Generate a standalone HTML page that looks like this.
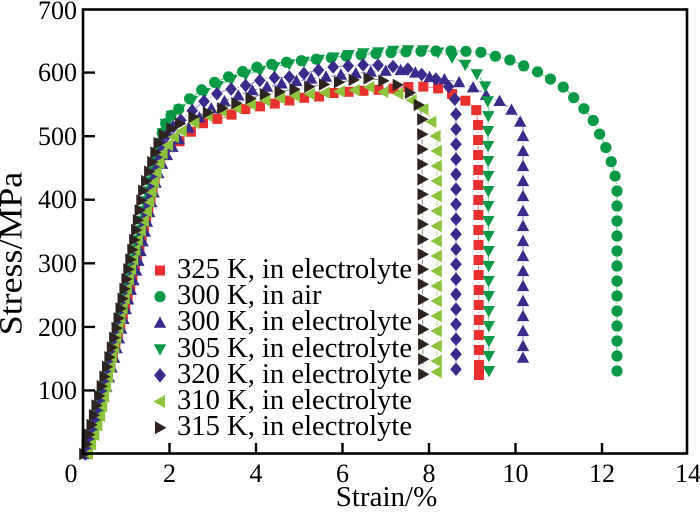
<!DOCTYPE html>
<html><head><meta charset="utf-8">
<style>
html,body{margin:0;padding:0;background:#fff;}
#wrap{position:relative;width:700px;height:518px;overflow:hidden;background:#fff;}
#c{position:absolute;left:0;top:0;display:block;}
.t{position:absolute;font-family:"Liberation Serif","Times New Roman",Times,serif;color:#000;white-space:nowrap;line-height:1;}
.yl{font-size:26px;width:60px;text-align:right;left:17px;}
.xl{font-size:26px;width:60px;text-align:center;top:461.2px;}
.lg{font-size:28.6px;left:177px;}
</style></head>
<body>
<div id="wrap">
<svg id="c" width="700" height="518" viewBox="0 0 700 518" xmlns="http://www.w3.org/2000/svg">
<defs>
<rect id="m_sq" x="-5" y="-5" width="10" height="10" fill="#e8302e"/>
<circle id="m_ci" r="5.6" fill="#0a9a46"/>
<polygon id="m_tu" points="0,-6.5 6.2,4.8 -6.2,4.8" fill="#3a2a8c"/>
<polygon id="m_td" points="0,6.5 6.2,-4.8 -6.2,-4.8" fill="#0a9a46"/>
<polygon id="m_di" points="0,-6.8 5.8,0 0,6.8 -5.8,0" fill="#3a2a8c"/>
<polygon id="m_tl" points="-6.5,0 4.8,-6.2 4.8,6.2" fill="#8cc43c"/>
<polygon id="m_tr" points="6.5,0 -4.8,-6.2 -4.8,6.2" fill="#2e2320"/>
</defs>
<rect width="700" height="518" fill="#fff"/>
<g id="series"></g>
<rect x="83" y="9.5" width="604" height="444" fill="none" stroke="#000" stroke-width="2.6"/>
<g stroke="#000" stroke-width="2.4">
<path d="M83,390.4h12M83,326.9h12M83,263.3h12M83,199.7h12M83,136.2h12M83,72.6h12"/>
<path d="M169.5,454v-11M256,454v-11M342.5,454v-11M429,454v-11M515.5,454v-11M602,454v-11"/>
</g>
<g>
<rect x="155" y="265.5" width="10" height="10" fill="#e8302e"/>
<circle cx="160" cy="296.7" r="5.6" fill="#0a9a46"/>
<polygon points="160,316.5 166.2,327.8 153.8,327.8" fill="#3a2a8c"/>
<polygon points="160,355.6 166.2,344.3 153.8,344.3" fill="#0a9a46"/>
<polygon points="160,368 166,375.3 160,382.6 154,375.3" fill="#3a2a8c"/>
<polygon points="153.5,401.5 165,395 165,408" fill="#8cc43c"/>
<polygon points="166.5,427.7 155,421.2 155,434.2" fill="#2e2320"/>
</g>
</svg>

<div class="t yl" style="top:378.2px">100</div>
<div class="t yl" style="top:314.6px">200</div>
<div class="t yl" style="top:251px">300</div>
<div class="t yl" style="top:187.4px">400</div>
<div class="t yl" style="top:123.9px">500</div>
<div class="t yl" style="top:60.3px">600</div>
<div class="t yl" style="top:-2.3px">700</div>

<div class="t xl" style="left:41px">0</div>
<div class="t xl" style="left:139.5px">2</div>
<div class="t xl" style="left:226px">4</div>
<div class="t xl" style="left:312.5px">6</div>
<div class="t xl" style="left:399px">8</div>
<div class="t xl" style="left:485.5px">10</div>
<div class="t xl" style="left:572px">12</div>
<div class="t xl" style="left:658px">14</div>

<div class="t" style="font-size:29px;left:286.5px;width:200px;text-align:center;top:482.7px">Strain/%</div>
<div class="t" style="font-size:33px;left:-88.1px;width:200px;text-align:center;top:236.5px;height:33px;transform:rotate(-90deg) scaleX(1.087);">Stress/MPa</div>

<div class="t lg" style="top:256px">325 K, in electrolyte</div>
<div class="t lg" style="top:282.2px">300 K, in air</div>
<div class="t lg" style="top:308.4px">300 K, in electrolyte</div>
<div class="t lg" style="top:334.6px">305 K, in electrolyte</div>
<div class="t lg" style="top:360.8px">320 K, in electrolyte</div>
<div class="t lg" style="top:387px">310 K, in electrolyte</div>
<div class="t lg" style="top:413.2px">315 K, in electrolyte</div>
</div>
<script>
(function(){
var NS="http://www.w3.org/2000/svg";
var S=[
{m:"m_sq",lc:"#f08a86",p:[[88,454],[102,400],[116,345],[130,290],[143,235],[152,195],[157,170],[163,157],[172,145],[182,140],[198,125],[212,120],[227,117],[240,110],[257,107],[283,102],[300,98],[317,97],[333,93],[360,91],[390,89],[418,86],[437,88],[450,93],[463,99],[476,108],[478,125],[479,375]]},
{m:"m_ci",lc:"#6cc48e",p:[[86,454],[100,400],[113,345],[126,290],[139,235],[150,185],[158,150],[163,130],[168,118],[180,108],[188,100],[200,91],[213,83],[233,75],[253,68],[278,63],[308,60],[328,58],[347,56],[370,54],[400,52],[430,51],[460,51],[480,52],[494,56],[510,60],[518,63],[528,68],[538,72],[547,77],[557,83],[566,89],[573,97],[578,102],[585,110],[593,120],[600,135],[608,152],[613,167],[616,180],[617,190],[617,371]]},
{m:"m_tu",lc:"#8a80c0",p:[[86,454],[100,410],[115,355],[128,300],[137,268],[147,222],[152,200],[157,177],[163,162],[170,150],[180,138],[192,124],[207,111],[227,100],[250,91],[280,84],[310,79],[340,75],[370,72],[407,70],[422,75],[432,78],[448,80],[458,82],[472,87],[482,92],[490,98],[502,102],[515,113],[523,127],[523,358]]},
{m:"m_td",lc:"#6cc48e",p:[[86,454],[100,400],[113,345],[126,290],[139,235],[150,185],[158,150],[165,125],[172,115],[185,105],[200,95],[215,87],[235,78],[255,72],[278,66],[300,62],[330,58],[347,55],[363,53],[380,52],[398,50],[425,50],[442,53],[458,60],[469,67],[478,75],[485,85],[487,97],[489,108],[488,120],[489,376]]},
{m:"m_di",lc:"#8a80c0",p:[[85,454],[98,410],[111,360],[124,305],[136,255],[147,205],[155,170],[162,145],[170,130],[187,115],[203,102],[220,92],[247,85],[267,78],[290,77],[310,72],[333,67],[347,66],[360,65],[377,65],[398,67],[412,70],[427,77],[440,80],[453,90],[455,100],[456,108],[456,375]]},
{m:"m_tl",lc:"#b8dc88",p:[[88,454],[93,440],[100,418],[110,368],[123,308],[137,243],[147,212],[153,187],[158,168],[163,153],[173,138],[187,127],[213,113],[240,107],[267,100],[300,95],[333,92],[357,90],[370,87],[383,92],[397,93],[408,98],[420,105],[430,117],[435,132],[437,143],[437,372]]},
{m:"m_tr",lc:"#888",p:[[84,454],[95,410],[106,370],[116,330],[126,280],[135,235],[143,190],[150,168],[156,150],[160,138],[173,127],[193,117],[217,110],[240,102],[260,95],[290,90],[320,85],[347,81],[365,78],[380,80],[393,83],[405,88],[415,98],[420,108],[422,118],[422,132],[423,375]]}
];
var g=document.getElementById("series");
function spFor(x,y){ return (x<175)?10:15; }
function place(pts){
  var res=[[pts[0][0],pts[0][1]]],d=spFor(pts[0][0],pts[0][1]);
  for(var i=1;i<pts.length;i++){
    var x0=pts[i-1][0],y0=pts[i-1][1],x1=pts[i][0],y1=pts[i][1];
    var L=Math.hypot(x1-x0,y1-y0),pos=0;
    while(L-pos>=d){pos+=d;var px=x0+(x1-x0)*pos/L,py=y0+(y1-y0)*pos/L;res.push([px,py]);d=spFor(px,py);}
    d-=(L-pos);
  }
  var last=pts[pts.length-1],pl=res[res.length-1];
  if(Math.hypot(last[0]-pl[0],last[1]-pl[1])>6)res.push([last[0],last[1]]);
  return res;
}
S.forEach(function(s){
  var pl=document.createElementNS(NS,"polyline");
  pl.setAttribute("points",s.p.map(function(q){return q.join(",");}).join(" "));
  pl.setAttribute("fill","none");pl.setAttribute("stroke",s.lc);
  pl.setAttribute("stroke-width","1");pl.setAttribute("stroke-dasharray","5,2,1,2");
  g.appendChild(pl);
});
S.forEach(function(s){
  place(s.p).forEach(function(q){
    var u=document.createElementNS(NS,"use");
    u.setAttribute("href","#"+s.m);
    u.setAttributeNS("http://www.w3.org/1999/xlink","xlink:href","#"+s.m);
    u.setAttribute("x",q[0].toFixed(1));u.setAttribute("y",q[1].toFixed(1));
    g.appendChild(u);
  });
});
})();
</script>
</body></html>
